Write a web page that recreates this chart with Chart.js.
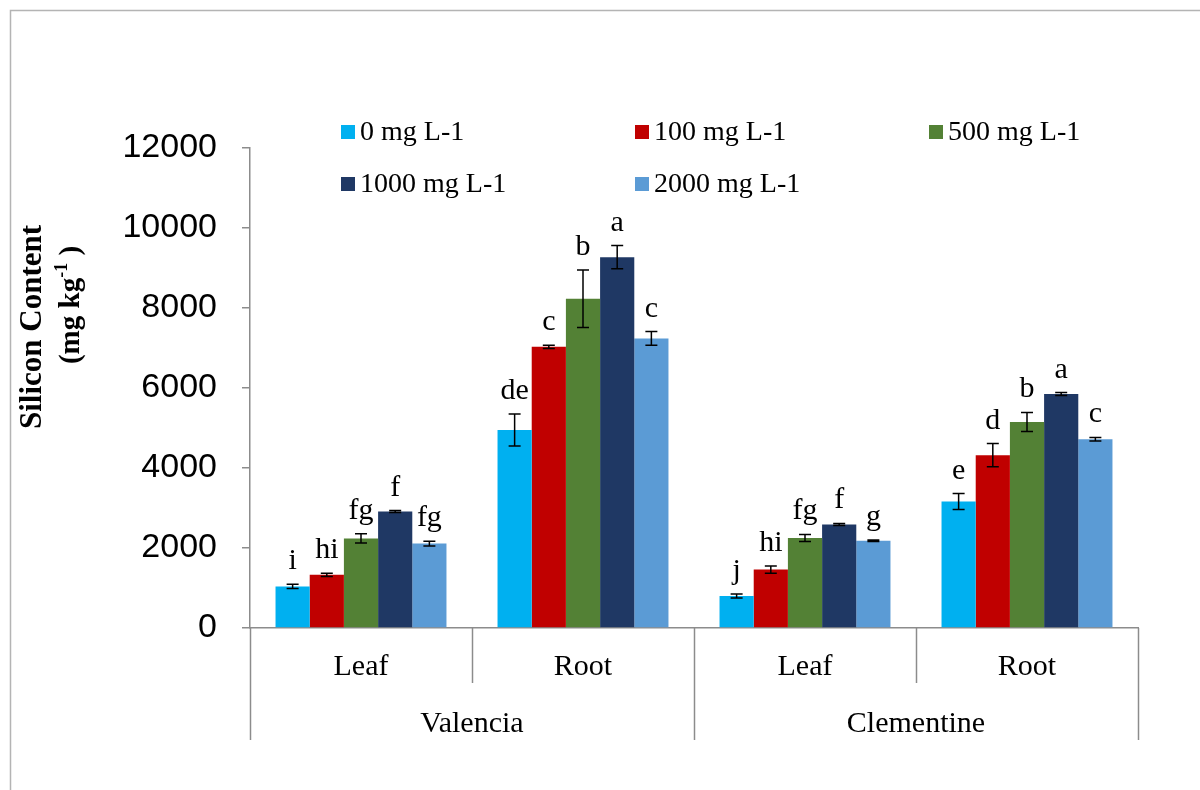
<!DOCTYPE html>
<html>
<head>
<meta charset="utf-8">
<script src="https://cdn.jsdelivr.net/npm/chart.js@4.4.1/dist/chart.umd.min.js"></script>
<style>
  body { margin: 0; background: #fff; }
  #wrap { width: 1200px; height: 790px; }
</style>
</head>
<body>
<div id="wrap"><canvas id="chart" width="1200" height="790"></canvas></div>
<script>
    "use strict";

    // Data
    var parts = ["Leaf", "Root", "Leaf", "Root"];
    var cultivars = ["Valencia", "Clementine"];
    var doses = ["0 mg L-1", "100 mg L-1", "500 mg L-1", "1000 mg L-1", "2000 mg L-1"];
    var doseColors = ["#00B0F0", "#C00000", "#538135", "#1F3864", "#5B9BD5"];

    var si0 = [1040, 4950, 800, 3160];
    var si100 = [1330, 7030, 1460, 4320];
    var si500 = [2240, 8230, 2250, 5150];
    var si1000 = [2910, 9270, 2590, 5850];
    var si2000 = [2110, 7240, 2180, 4720];

    var err0 = [55, 400, 50, 200];
    var err100 = [40, 40, 90, 290];
    var err500 = [115, 720, 90, 240];
    var err1000 = [25, 290, 25, 35];
    var err2000 = [60, 170, 20, 45];

    var let0 = ["i", "de", "j", "e"];
    var let100 = ["hi", "c", "hi", "d"];
    var let500 = ["fg", "b", "fg", "b"];
    var let1000 = ["f", "a", "f", "a"];
    var let2000 = ["fg", "c", "g", "c"];

    var yTicks = [0, 2000, 4000, 6000, 8000, 10000, 12000];

    var values = [si0, si100, si500, si1000, si2000];
    var errors = [err0, err100, err500, err1000, err2000];
    var letters = [let0, let100, let500, let1000, let2000];

    var serif = "'Liberation Serif', 'Times New Roman', serif";
    var axisGrey = "#8c8c8c";

    // Frame, separators, error bars, letters, legend, y title
    var decorations = {
        id: "decorations",
        beforeDraw: function (chart) {
            var ctx = chart.ctx;
            ctx.save();
            ctx.strokeStyle = "#b4b4b4";
            ctx.lineWidth = 1.5;
            ctx.beginPath();
            ctx.moveTo(10.5, 790);
            ctx.lineTo(10.5, 10.5);
            ctx.lineTo(1200, 10.5);
            ctx.stroke();
            ctx.restore();
        },
        afterDatasetsDraw: function (chart) {
            var ctx = chart.ctx;
            var y = chart.scales.y;
            ctx.save();
            ctx.strokeStyle = "#000";
            ctx.lineWidth = 1.5;
            ctx.fillStyle = "#000";
            ctx.font = "30px " + serif;
            ctx.textAlign = "center";
            ctx.textBaseline = "alphabetic";
            chart.data.datasets.forEach(function (ds, i) {
                var meta = chart.getDatasetMeta(i);
                meta.data.forEach(function (bar, j) {
                    var v = values[i][j], e = errors[i][j];
                    var top = y.getPixelForValue(v + e);
                    var bot = y.getPixelForValue(v - e);
                    ctx.beginPath();
                    ctx.moveTo(bar.x, top);
                    ctx.lineTo(bar.x, bot);
                    ctx.moveTo(bar.x - 6, top);
                    ctx.lineTo(bar.x + 6, top);
                    ctx.moveTo(bar.x - 6, bot);
                    ctx.lineTo(bar.x + 6, bot);
                    ctx.stroke();
                    ctx.fillText(letters[i][j], bar.x, top - 15);
                });
            });
            ctx.restore();
        },
        afterDraw: function (chart) {
            var ctx = chart.ctx;
            var x = chart.scales.x;
            var area = chart.chartArea;
            var step = (area.right - area.left) / parts.length;

            // category separators
            ctx.save();
            ctx.strokeStyle = axisGrey;
            ctx.lineWidth = 1.5;
            for (var k = 0; k <= parts.length; k++) {
                var bx = Math.round(x.getPixelForValue(0) - step / 2 + k * step) + 0.5;
                var long = (k % 2 === 0);
                ctx.beginPath();
                ctx.moveTo(bx, area.bottom);
                ctx.lineTo(bx, area.bottom + (long ? 112 : 55));
                ctx.stroke();
            }
            ctx.restore();

            // legend, three columns
            ctx.save();
            ctx.font = "28px " + serif;
            ctx.textBaseline = "middle";
            ctx.textAlign = "left";
            chart.data.datasets.forEach(function (ds, i) {
                var col = i % 3, row = Math.floor(i / 3);
                var lx = 341 + col * 294;
                var ly = 132 + row * 52;
                ctx.fillStyle = ds.backgroundColor;
                ctx.fillRect(lx, ly - 7, 14, 14);
                ctx.fillStyle = "#000";
                ctx.fillText(ds.label, lx + 19, ly + 1);
            });
            ctx.restore();

            // y axis title, two rotated lines
            ctx.save();
            ctx.fillStyle = "#000";
            ctx.translate(33, 327);
            ctx.rotate(-Math.PI / 2);
            ctx.font = "bold 31px " + serif;
            ctx.textAlign = "center";
            ctx.textBaseline = "middle";
            ctx.fillText("Silicon Content", 0, 0);
            ctx.restore();

            ctx.save();
            ctx.fillStyle = "#000";
            ctx.translate(72, 305);
            ctx.rotate(-Math.PI / 2);
            ctx.textBaseline = "middle";
            ctx.textAlign = "left";
            var big = "bold 29px " + serif, small = "bold 18px " + serif;
            ctx.font = big;
            var w1 = ctx.measureText("(mg kg").width;
            var w3 = ctx.measureText(" )").width;
            ctx.font = small;
            var w2 = ctx.measureText("-1").width;
            var sx = -(w1 + w2 + w3) / 2;
            ctx.font = big;
            ctx.fillText("(mg kg", sx, 0);
            ctx.font = small;
            ctx.fillText("-1", sx + w1, -10);
            ctx.font = big;
            ctx.fillText(" )", sx + w1 + w2, 0);
            ctx.restore();
        }
    };

    var ctx = document.getElementById("chart").getContext("2d");
    var myChart = new Chart(ctx, {
        type: "bar",
        data: {
            labels: parts,
            datasets: doses.map(function (d, i) {
                return {
                    label: d,
                    data: values[i],
                    backgroundColor: doseColors[i],
                    borderWidth: 0,
                    categoryPercentage: 0.77,
                    barPercentage: 1.0
                };
            })
        },
        options: {
            responsive: false,
            animation: false,
            layout: { padding: { top: 148, right: 62, bottom: 0, left: 0 } },
            plugins: {
                legend: { display: false },
                tooltip: { enabled: false }
            },
            scales: {
                y: {
                    min: 0,
                    max: 12000,
                    afterBuildTicks: function (scale) {
                        scale.ticks = yTicks.map(function (v) { return { value: v }; });
                    },
                    afterFit: function (scale) { scale.width = 250; },
                    grid: { drawOnChartArea: false, drawTicks: true, tickLength: 8, color: axisGrey, lineWidth: 1.5 },
                    border: { color: axisGrey, width: 1.5 },
                    ticks: {
                        padding: 25,
                        color: "#000",
                        callback: function (v) { return String(v); },
                        font: { family: "'Liberation Sans', Arial, sans-serif", size: 34 }
                    }
                },
                x: {
                    afterFit: function (scale) { scale.height = 64; },
                    grid: { display: false },
                    border: { color: axisGrey, width: 1.5 },
                    ticks: {
                        padding: 13,
                        color: "#000",
                        maxRotation: 0,
                        font: { family: serif, size: 30 }
                    }
                },
                x2: {
                    type: "category",
                    position: "bottom",
                    labels: cultivars,
                    offset: true,
                    afterFit: function (scale) { scale.height = 98; },
                    grid: { display: false },
                    border: { display: false },
                    ticks: {
                        padding: 6,
                        color: "#000",
                        maxRotation: 0,
                        font: { family: serif, size: 30 }
                    }
                }
            }
        },
        plugins: [decorations]
    });
</script>
</body>
</html>
